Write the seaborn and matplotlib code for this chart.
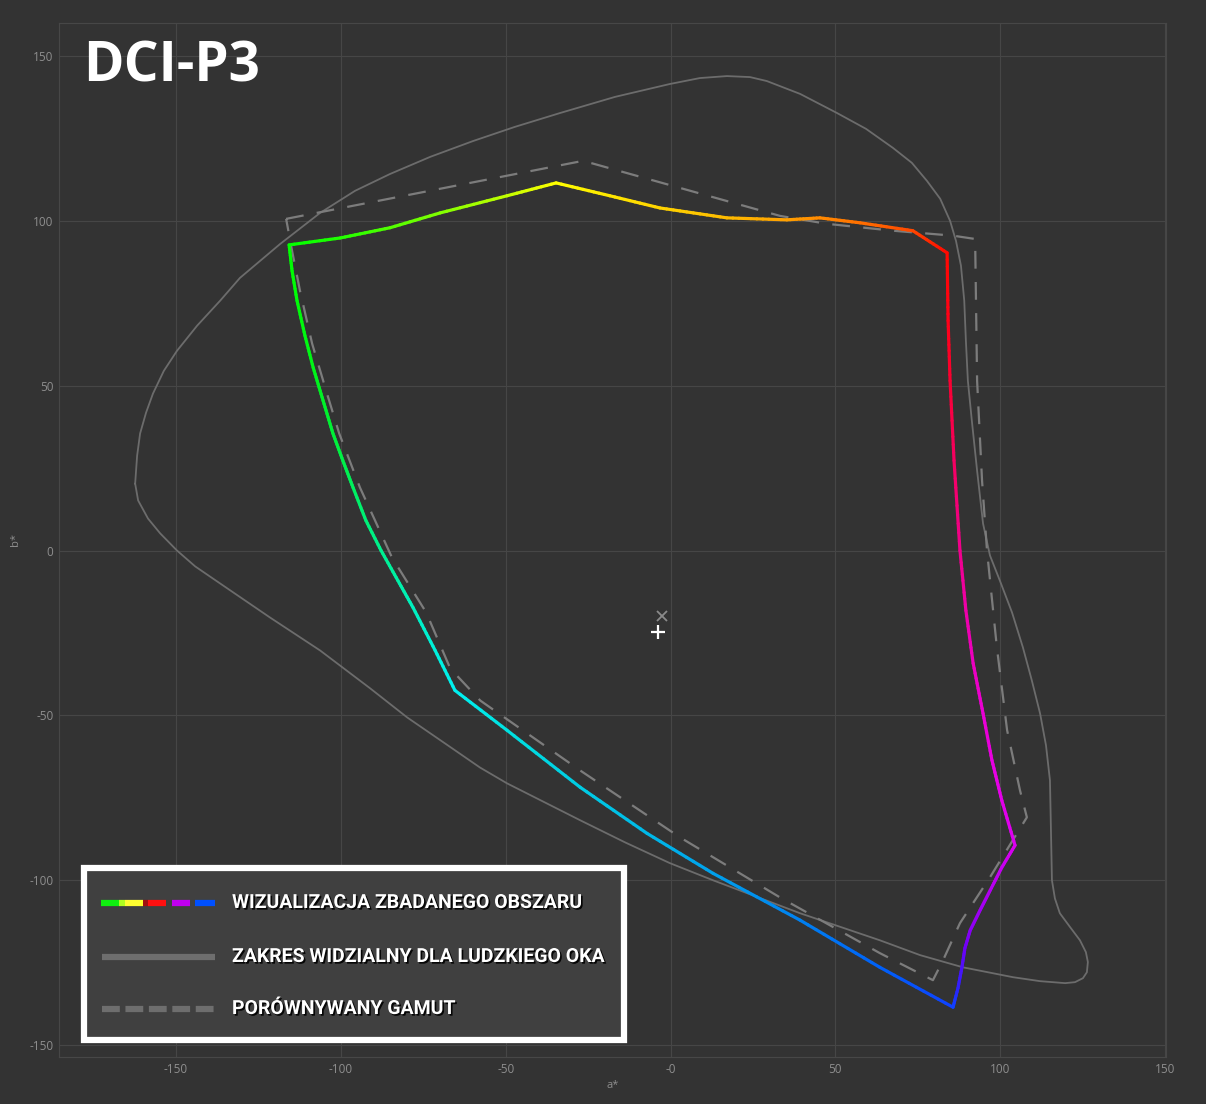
import numpy as np
import pandas as pd
import matplotlib
matplotlib.use("Agg")
import matplotlib.pyplot as plt
import matplotlib.patheffects as pe
from matplotlib.collections import LineCollection
from matplotlib.colors import to_rgb
from matplotlib.patches import Rectangle
from matplotlib.lines import Line2D
import seaborn as sns

# visible locus (a*, b*)
loc_a = [-162.4, -161.8, -160.9, -159.1, -157.0, -153.7, -149.7, -143.6, -136.6, -130.6,
         -118.4, -106.3, -95.7, -85.1, -72.9, -59.9, -47.2, -33.5, -16.8, -0.2,
         8.9, 17.1, 24.1, 29.2, 39.3, 50.5, 59.3, 67.5, 73.2, 77.8,
         81.8, 84.8, 86.6, 88.1, 89.1, 89.6, 90.2, 91.4, 93.0, 94.8,
         96.9, 99.9, 103.6, 106.9, 109.6, 112.1, 113.9, 115.1, 115.4, 115.7,
         116.6, 118.1, 121.2, 124.2, 126.0, 126.6, 126.3, 125.1, 122.7, 119.7,
         112.1, 103.9, 88.7, 75.7, 63.5, 39.3, 12.9, -0.2, -13.8, -27.4,
         -49.6, -57.8, -68.4, -79.9, -91.1, -106.3, -121.5, -136.6, -144.2, -149.7,
         -154.8, -158.5, -161.5, -162.4]
loc_b = [20.3, 28.8, 35.5, 41.8, 47.6, 54.5, 60.6, 68.2, 75.8, 82.7,
         93.0, 102.4, 109.1, 114.2, 119.4, 124.2, 128.5, 132.7, 137.6, 141.5,
         143.3, 143.9, 143.6, 142.4, 138.5, 132.7, 127.9, 122.1, 117.6, 112.1,
         106.7, 100.0, 93.9, 86.4, 75.8, 63.6, 51.5, 39.4, 24.2, 8.2,
         -1.5, -9.1, -18.8, -29.4, -39.4, -49.4, -59.1, -69.7, -84.8, -100.0,
         -105.5, -110.0, -114.2, -118.2, -121.8, -124.8, -127.9, -129.7, -130.9, -131.2,
         -130.6, -129.4, -126.4, -122.7, -118.2, -110.0, -100.0, -94.8, -88.5, -81.8,
         -70.6, -65.8, -58.5, -50.6, -41.8, -30.3, -20.3, -10.0, -4.8, 0.0,
         5.2, 9.7, 15.2, 20.3]

# measured gamut (DCI-P3 test)
gam_a = [-115.7, -100.2, -85.1, -69.9, -49.6, -34.7, -18.4, -3.2, 17.1, 35.3,
         45.3, 57.5, 73.5, 83.9, 84.2, 84.8, 86.0, 87.8, 89.6, 91.8,
         94.8, 97.5, 100.5, 104.5, 100.5, 97.0, 93.9, 90.9, 89.3, 88.4,
         87.2, 85.7, 63.5, 39.3, 12.9, -7.1, -27.4, -49.6, -65.4, -71.4,
         -78.1, -82.7, -87.8, -92.4, -96.3, -99.4, -102.4, -105.4, -108.4, -110.9,
         -113.3, -114.8, -115.7]
gam_b = [92.7, 94.8, 97.9, 102.4, 107.6, 111.5, 107.6, 103.9, 100.9, 100.3,
         100.9, 99.4, 97.0, 90.3, 69.7, 51.5, 27.3, 0.0, -18.2, -34.2,
         -49.4, -63.6, -75.8, -89.4, -96.1, -103.0, -109.1, -115.2, -120.6, -126.4,
         -132.7, -138.5, -126.4, -112.1, -97.9, -85.8, -71.8, -54.5, -42.4, -30.3,
         -17.3, -9.1, 0.0, 9.1, 19.1, 27.3, 35.5, 45.5, 55.5, 65.2,
         75.8, 84.8, 92.7]
gam_col = ["#00ff00", "#20ff00", "#50ff00", "#80ff00", "#c0ff00", "#ffff00", "#ffe800", "#ffd400", "#ffbc00", "#ffa000",
           "#ff8a00", "#ff7000", "#ff4800", "#ff0800", "#ff0018", "#fa0030", "#f50060", "#f0008c", "#ee00a8", "#ec00c0",
           "#ea00d4", "#e800e0", "#e400ea", "#dc00f0", "#c800f0", "#b400f0", "#a000f2", "#8c00f4", "#7000f6", "#5010f8",
           "#3020fc", "#1040ff", "#0060f8", "#0080f0", "#00a0ec", "#00b8e8", "#00cce4", "#00e0e0", "#00f0f0", "#00f0dc",
           "#00f0c0", "#00f0a8", "#00f090", "#00f078", "#00f060", "#00f048", "#00f038", "#00f028", "#00f418", "#00f810",
           "#00fa08", "#00fc04", "#00ff00"]

# compared gamut
ref_a = [-116.6, -26.5, 33.2, 47.4, 67.5, 85.7, 92.4, 93.0, 94.5, 96.0,
         99.0, 102.1, 106.0, 108.1, 96.9, 87.8, 82.7, 79.6, 63.5, 33.2,
         2.9, -27.4, -57.7, -66.8, -74.1, -84.5, -94.2, -100.5, -104.2, -108.7,
         -112.4, -114.8, -116.6]
ref_b = [100.6, 118.2, 101.5, 99.1, 97.0, 95.5, 94.5, 51.5, 21.2, 0.0,
         -29.4, -54.5, -72.7, -80.9, -99.1, -113.0, -124.2, -130.3, -122.1, -105.2,
         -87.0, -66.7, -45.5, -35.8, -18.8, -2.1, 19.1, 35.5, 47.6, 62.7,
         78.8, 90.9, 100.6]

white_pt = (-3.8, -24.8)
ref_white = (-2.6, -19.7)

ticks = [-150, -100, -50, 0, 50, 100, 150]
xlabels = ["-150", "-100", "-50", "-0", "50", "100", "150"]
ylabels = ["-150", "-100", "-50", "0", "50", "100", "150"]

legend_labels = ["WIZUALIZACJA ZBADANEGO OBSZARU",
                 "ZAKRES WIDZIALNY DLA LUDZKIEGO OKA",
                 "PORÓWNYWANY GAMUT"]

bg = "#333333"
sns.set_theme(style="darkgrid", rc={"axes.facecolor": bg, "figure.facecolor": bg,
                                    "grid.color": "#464646", "grid.linewidth": 0.8,
                                    "axes.edgecolor": "#474747", "axes.linewidth": 0.8})
plt.rcParams["font.family"] = ["Open Sans", "DejaVu Sans"]

W, H = 1206, 1104
fig = plt.figure(figsize=(W / 100, H / 100), dpi=100)
ax = fig.add_axes([59 / W, 47 / H, 1107 / W, 1034 / H])

loc = pd.DataFrame({"a": loc_a, "b": loc_b})
ref = pd.DataFrame({"a": ref_a, "b": ref_b})
sns.lineplot(data=loc, x="a", y="b", sort=False, estimator=None, color="#6c6c6c", lw=1.3, ax=ax)
sns.lineplot(data=ref, x="a", y="b", sort=False, estimator=None, color="#7c7c7c", lw=1.6,
             ax=ax).lines[-1].set_dashes((8, 6))

# gradient outline of the measured gamut
segs, cols = [], []
for i in range(len(gam_a) - 1):
    c0, c1 = np.array(to_rgb(gam_col[i])), np.array(to_rgb(gam_col[i + 1]))
    n = 10
    for k in range(n):
        t0, t1 = k / n, (k + 1) / n
        p0 = (gam_a[i] + (gam_a[i + 1] - gam_a[i]) * t0, gam_b[i] + (gam_b[i + 1] - gam_b[i]) * t0)
        p1 = (gam_a[i] + (gam_a[i + 1] - gam_a[i]) * t1, gam_b[i] + (gam_b[i + 1] - gam_b[i]) * t1)
        segs.append([p0, p1])
        cols.append(c0 + (c1 - c0) * (t0 + t1) / 2)
ax.add_collection(LineCollection(segs, colors=cols, linewidths=2.3, capstyle="round", joinstyle="round"))

ax.plot(*ref_white, marker="x", color="#8a8a8a", ms=7, mew=1.3)
ax.plot(*white_pt, marker="+", color="white", ms=10, mew=1.6)

ax.set_xlim(-185.5, 150.3)
ax.set_ylim(-153.6, 160)
ax.set_xticks(ticks, xlabels)
ax.set_yticks(ticks, ylabels)
ax.tick_params(length=0, pad=4, labelsize=8.5, labelcolor="#8e8e8e")
ax.set_xlabel("a*", fontsize=8, color="#8e8e8e", labelpad=3)
ax.set_ylabel("b*", fontsize=8, color="#8e8e8e", labelpad=6)
for s in ax.spines.values():
    s.set_visible(True)

fig.text(83 / W, 1 - 81 / H, "DCI-P3", fontsize=39.5, fontweight="bold", color="white")

# legend box
fx = lambda px: px / W
fy = lambda py: 1 - py / H
fig.add_artist(Rectangle((fx(84), fy(1040)), fx(540), 172 / H, transform=fig.transFigure,
                         facecolor="#404040", edgecolor="white", lw=4.5))
shadow = [pe.SimplePatchShadow(offset=(1.2, -1.2), shadow_rgbFace="black", alpha=0.9), pe.Normal()]
ys = [903, 957, 1009]
for y, lab in zip(ys, legend_labels):
    fig.text(fx(232), fy(y), lab, fontsize=14, fontweight="bold", color="white",
             va="center", family="Roboto", path_effects=shadow)
leg_parts = [(101, 119, "#10ee10"), (119, 125, "#b0ff20"), (125, 143, "#ffff30"),
             (143, 148, "#a01010"), (148, 166, "#ff1010"), (172, 190, "#c000f0"), (195, 215, "#0050ff")]
for x0, x1, c in leg_parts:
    fig.add_artist(Line2D([fx(x0), fx(x1)], [fy(ys[0])] * 2, color=c, lw=4.5, solid_capstyle="butt",
                          transform=fig.transFigure))
fig.add_artist(Line2D([fx(102), fx(215)], [fy(ys[1])] * 2, color="#6e6e6e", lw=4.5, solid_capstyle="butt",
                      transform=fig.transFigure))
fig.add_artist(Line2D([fx(102), fx(215)], [fy(ys[2])] * 2, color="#6e6e6e", lw=4.5, dashes=(2.85, 0.9),
                      dash_capstyle="butt", transform=fig.transFigure))

fig.savefig("out.png", dpi=100, facecolor=bg)
